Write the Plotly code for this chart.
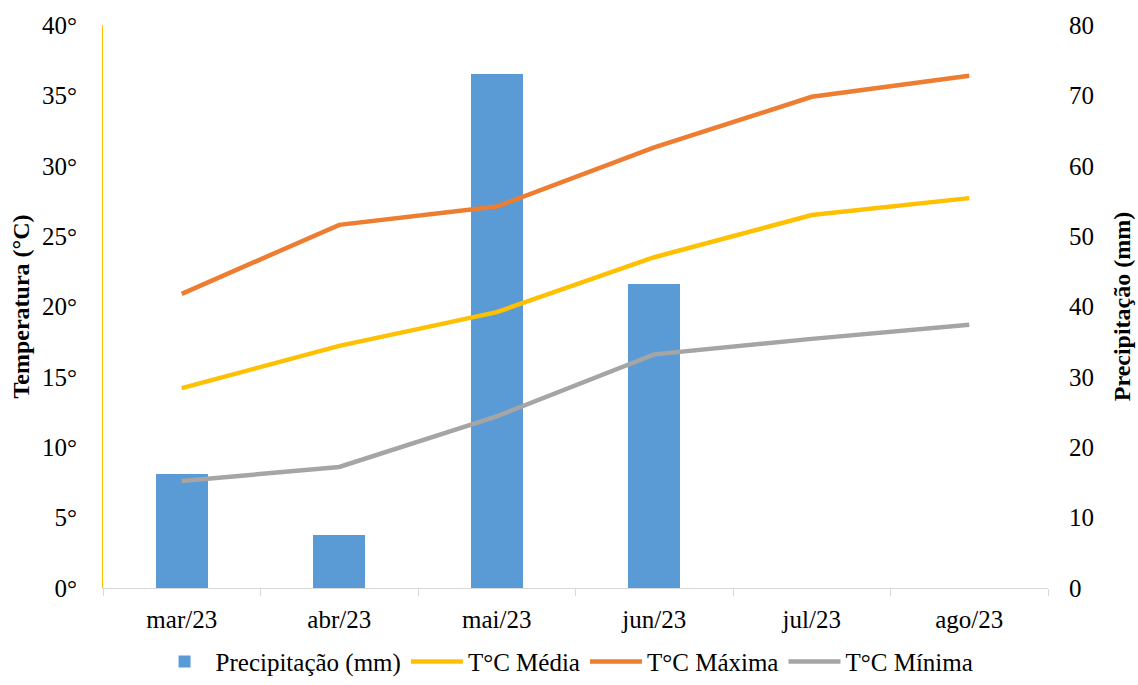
import plotly.graph_objects as go

# Monthly climate data
months = ["mar/23", "abr/23", "mai/23", "jun/23", "jul/23", "ago/23"]
precip_mm = [16.2, 7.5, 73.1, 43.2, None, None]
temp_media = [14.2, 17.2, 19.6, 23.5, 26.5, 27.7]
temp_max = [20.9, 25.8, 27.1, 31.3, 34.9, 36.4]
temp_min = [7.6, 8.6, 12.2, 16.6, 17.7, 18.7]

temp_ticks = [0, 5, 10, 15, 20, 25, 30, 35, 40]
precip_ticks = [0, 10, 20, 30, 40, 50, 60, 70, 80]

FONT = "Liberation Serif"

fig = go.Figure()

fig.add_trace(go.Bar(
    x=months, y=precip_mm, name="Precipitação (mm)",
    marker=dict(color="#5B9BD5", line=dict(width=0)),
    width=0.33, yaxis="y",
))

line_series = [
    ("T°C Média", temp_media, "#FFC000"),
    ("T°C Máxima", temp_max, "#ED7D31"),
    ("T°C Mínima", temp_min, "#A5A5A5"),
]
for name, vals, color in line_series:
    fig.add_trace(go.Scatter(
        x=months, y=vals, name=name, mode="lines",
        line=dict(color=color, width=4.5),
        yaxis="y2",
    ))

fig.update_layout(
    width=1138, height=685,
    margin=dict(l=103, r=90, t=25, b=97, autoexpand=False),
    paper_bgcolor="white", plot_bgcolor="white",
    font=dict(family=FONT, size=25, color="#000000"),
    bargap=0,
    showlegend=True,
    legend=dict(
        orientation="h", x=0.49, xanchor="center",
        yref="container", y=0.034, yanchor="middle",
        font=dict(family=FONT, size=25, color="#000000"), itemwidth=52,
        traceorder="normal",
    ),
    xaxis=dict(
        type="category", range=[-0.5, 5.5],
        showline=True, linecolor="#D9D9D9", linewidth=1,
        ticks="outside", tickson="boundaries", ticklen=7, tickcolor="#D9D9D9",
        ticklabelstandoff=9,
        showgrid=False, zeroline=False,
        tickfont=dict(family=FONT, size=25),
    ),
    yaxis=dict(
        side="right", range=[0, 80], tickvals=precip_ticks,
        showgrid=False, zeroline=False, showline=False,
        ticklabelstandoff=20,
        tickfont=dict(family=FONT, size=25),
        title=dict(text="<b>Precipitação (mm)</b>", font=dict(family=FONT, size=24), standoff=20),
    ),
    yaxis2=dict(
        overlaying="y", side="left", range=[0, 40], tickvals=temp_ticks,
        ticktext=[f"{t}°" for t in temp_ticks],
        showgrid=False, zeroline=False,
        showline=True, linecolor="#FFC000", linewidth=1,
        ticklabelstandoff=20,
        tickfont=dict(family=FONT, size=25),
        title=dict(text="<b>Temperatura (°C)</b>", font=dict(family=FONT, size=24), standoff=5),
    ),
)

fig.write_html("out.html")
